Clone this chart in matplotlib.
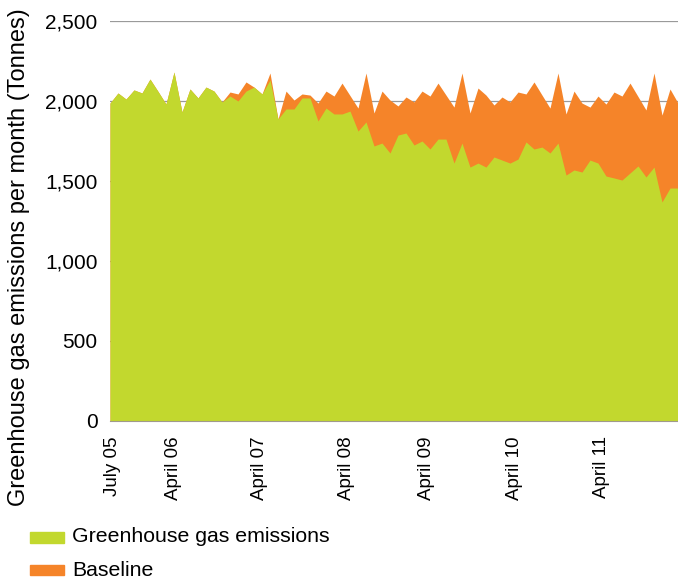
import matplotlib
matplotlib.use("Agg")
import matplotlib.pyplot as plt
from matplotlib.patches import Rectangle
import numpy as np

plt.rcParams['font.family'] = ['Liberation Sans', 'DejaVu Sans']

# monthly values, July 05 .. June 11 (tonnes)
emissions = [1987, 2050, 2012, 2069, 2050, 2137, 2060, 1981, 2181, 1931, 2075, 2019,
             2087, 2062, 1994, 2031, 2000, 2062, 2087, 2044, 2131, 1887, 1950, 1950,
             2019, 2019, 1875, 1956, 1919, 1919, 1937, 1812, 1869, 1719, 1737, 1675,
             1787, 1800, 1725, 1750, 1700, 1762, 1762, 1612, 1737, 1587, 1612, 1587,
             1650, 1631, 1612, 1637, 1744, 1700, 1712, 1675, 1737, 1537, 1569, 1556,
             1631, 1612, 1531, 1519, 1506, 1550, 1594, 1525, 1587, 1369, 1456, 1456]
baseline = [1987, 2050, 2012, 2069, 2050, 2137, 2060, 1981, 2181, 1931, 2075, 2019,
            2087, 2062, 1994, 2056, 2044, 2119, 2087, 2044, 2175, 1887, 2062, 2006,
            2044, 2037, 1987, 2062, 2031, 2112, 2034, 1956, 2175, 1925, 2062, 2006,
            1969, 2025, 1994, 2062, 2031, 2112, 2037, 1962, 2175, 1925, 2081, 2037,
            1975, 2025, 1994, 2056, 2044, 2119, 2037, 1956, 2175, 1919, 2062, 1987,
            1962, 2031, 1981, 2056, 2031, 2112, 2028, 1944, 2175, 1912, 2075, 1987]
tick_labels = ['July 05', 'April 06', 'April 07', 'April 08', 'April 09', 'April 10', 'April 11']
tick_pos = [0.25, 7.9, 18.75, 29.6, 39.6, 50.6, 61.5]
yticks = [0, 500, 1000, 1500, 2000, 2500]

green = '#C2D82E'
orange = '#F58429'

months = np.arange(len(emissions))

fig = plt.figure(figsize=(6.78, 5.82), dpi=100)
ax = fig.add_axes([110/678, 1-421/582, 568/678, 400/582])

ax.fill_between(months, 0, baseline, color=orange, lw=0, zorder=2)
ax.fill_between(months, 0, emissions, color=green, lw=0, zorder=3)

ax.set_xlim(0, len(emissions)-1)
ax.set_ylim(0, 2500)
ax.set_yticks(yticks)
ax.set_yticklabels(['{:,}'.format(v) for v in yticks], fontsize=15)
ax.set_xticks(tick_pos)
ax.set_xticklabels(tick_labels, rotation=90, fontsize=13.5, va='top', ha='center')
ax.tick_params(length=0, pad=9)
ax.tick_params(axis='x', pad=11)
ax.grid(axis='y', color='#9a9a9a', lw=0.9, zorder=0)
for s in ['left', 'right', 'top']:
    ax.spines[s].set_visible(False)
ax.spines['bottom'].set_color('#a09a8c')
ax.spines['bottom'].set_zorder(4)

fig.text(19/678, 1-257/582, 'Greenhouse gas emissions per month (Tonnes)',
         rotation=90, va='center', ha='center', fontsize=17)

# legend
fig.patches.append(Rectangle((30/678, 1-543/582), 34/678, 11/582,
                             transform=fig.transFigure, color=green, figure=fig))
fig.patches.append(Rectangle((30/678, 1-575/582), 34/678, 10/582,
                             transform=fig.transFigure, color=orange, figure=fig))
fig.text(72/678, 1-537/582, 'Greenhouse gas emissions', va='center', fontsize=15.3)
fig.text(72/678, 1-571/582, 'Baseline', va='center', fontsize=15.3)

plt.savefig('out.png', dpi=100)
